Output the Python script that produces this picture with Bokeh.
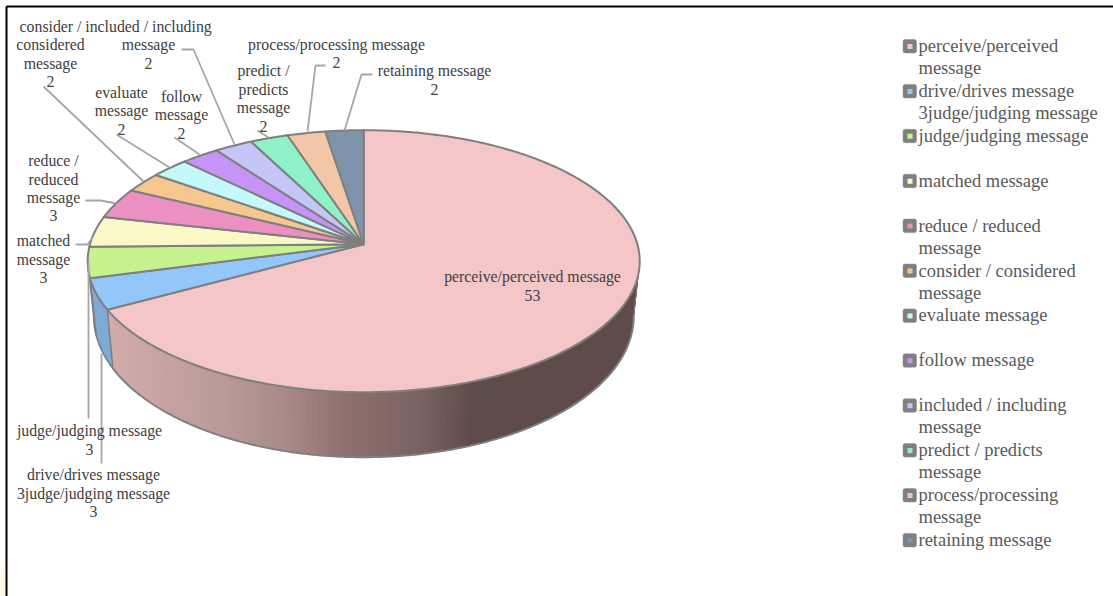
import numpy as np
from bokeh.core.properties import value
from bokeh.embed import file_html
from bokeh.models import Range1d
from bokeh.plotting import figure
from bokeh.resources import INLINE

# Chart data
categories = [
    "perceive/perceived message", "drive/drives message 3judge/judging message",
    "judge/judging message", "matched message", "reduce / reduced message",
    "consider / considered message", "evaluate message", "follow message",
    "included / including message", "predict / predicts message",
    "process/processing message", "retaining message",
]
counts = [53, 3, 3, 3, 3, 2, 2, 2, 2, 2, 2, 2]
slice_colors = ["#f5c6c8", "#93c7f9", "#c6f28f", "#fbf8c8", "#ec90c4", "#f6c690",
                "#c4f8fa", "#c693f6", "#c5c6f8", "#8ef2c6", "#f3c6a8", "#7f93ac"]

# Legend wording, wrapped the way it is set on the page
legend_lines = [
    ["perceive/perceived", "message"], ["drive/drives message", "3judge/judging message"],
    ["judge/judging message"], ["matched message"], ["reduce / reduced", "message"],
    ["consider / considered", "message"], ["evaluate message"], ["follow message"],
    ["included / including", "message"], ["predict / predicts", "message"],
    ["process/processing", "message"], ["retaining message"],
]

# Callout text: (centre x, [(line, centre y), ...])
callouts = [
    (532, [("perceive/perceived message", 276), ("53", 295)]),
    (93, [("drive/drives message", 474), ("3judge/judging message", 493), ("3", 511)]),
    (89, [("judge/judging message", 430), ("3", 449)]),
    (43, [("matched", 240), ("message", 259), ("3", 277)]),
    (53, [("reduce /", 160), ("reduced", 179), ("message", 197), ("3", 215)]),
    (50, [("consider /", 26), ("considered", 44), ("message", 63), ("2", 81)]),
    (121, [("evaluate", 92), ("message", 110), ("2", 129)]),
    (181, [("follow", 96), ("message", 114), ("2", 133)]),
    (148, [("included / including", 26), ("message", 44), ("2", 63)]),
    (263, [("predict /", 70), ("predicts", 89), ("message", 107), ("2", 126)]),
    (336, [("process/processing message", 44), ("2", 62)]),
    (434, [("retaining message", 70), ("2", 89)]),
]
leader_paths = [
    ([101, 101], [353, 463]),
    ([88, 88], [262, 418]),
    ([75, 87, 92], [244, 244, 237]),
    ([85, 100, 116], [200, 200, 203]),
    ([43, 143], [86, 181]),
    ([116, 169], [134, 167]),
    ([174, 199], [137, 154]),
    ([181, 193, 234], [49, 49, 144]),
    ([257, 268], [130, 137]),
    ([325, 315, 307], [65, 65, 131]),
    ([372, 361, 344], [74, 74, 130]),
]

# Page geometry of the tilted disc
APEX_X, APEX_Y = 363.2, 243.7
FAR, NEAR, HALF_W = 114, 148, 276
TILT = (NEAR - FAR) / (NEAR + FAR)
TOP_CY, TOP_RY = APEX_Y + (NEAR - FAR) / 2, (NEAR + FAR) / 2
BASE_CY, BASE_RY, BASE_RX = 315.7, 141, 270


def disc_point(deg):
    """Project an angle (clockwise from 12 o'clock) onto the tilted disc."""
    t = np.radians(deg)
    u, v = np.sin(t), np.cos(t)
    k = 1 + TILT * v
    return (APEX_X + HALF_W * np.sqrt(1 - TILT ** 2) * u / k,
            APEX_Y - FAR * (1 + TILT) * v / k)


def drop_to_base(x, y):
    """Carry a point on the top rim straight down to the same spot on the lower rim."""
    return (APEX_X + (x - APEX_X) * BASE_RX / HALF_W,
            BASE_CY + (y - TOP_CY) * BASE_RY / TOP_RY)


def shade(color, factor):
    rgb = [int(color[i:i + 2], 16) for i in (1, 3, 5)]
    return "#%02x%02x%02x" % tuple(int(c * factor) for c in rgb)


# Wall shading along the page width
ramp_x = [107, 220, 280, 340, 420, 470, 640]
ramp_rgb = [(0xd2, 0xac, 0xac), (0xb9, 0x9a, 0x97), (0xa9, 0x8b, 0x89),
            (0x8f, 0x71, 0x6f), (0x79, 0x63, 0x61), (0x5f, 0x4c, 0x4a), (0x5f, 0x4c, 0x4a)]


def wall_color(x):
    return "#%02x%02x%02x" % tuple(int(np.interp(x, ramp_x, [c[i] for c in ramp_rgb])) for i in range(3))


edges = np.cumsum([0] + counts) / sum(counts) * 360

p = figure(width=1113, height=596, output_backend="svg", toolbar_location=None,
           x_range=Range1d(0, 1113), y_range=Range1d(596, 0), min_border=0,
           x_axis_type=None, y_axis_type=None, outline_line_color=None,
           background_fill_color="white", border_fill_color="white")
p.grid.visible = False

# Sheet edge: faint tint in the corner and the dark frame lines
p.patch([0, 5, 5, 0], [596, 596, 553, 575], fill_color="#fff8dc", line_color=None)
p.line([6, 1113], [6, 6], line_color="black", line_width=2)
p.line([6, 6], [6, 596], line_color="black", line_width=2)

# Large slice wall: each shaded band runs to the far end and is overpainted by the next
big_end = edges[1]
scan = np.linspace(60, 120, 600)
right_turn = scan[np.argmax(disc_point(scan)[0])]
rim = np.linspace(big_end, right_turn, 400)
rx, ry = disc_point(rim)
bx, by = drop_to_base(rx, ry)
for i in range(0, len(rim) - 1, 3):
    xs = np.r_[rx[i:], bx[i:][::-1]]
    ys = np.r_[ry[i:], by[i:][::-1]]
    p.patch(xs, ys, fill_color=wall_color(rx[i]), line_color=None)
p.line(bx, by, line_color="#7f7f7f", line_width=2)
p.line([rx[-1], bx[-1]], [ry[-1], by[-1]], line_color="#7f7f7f", line_width=1)

# Remaining visible wall pieces on the left of the disc
for k in (1, 2):
    a0, a1 = edges[k], edges[k + 1]
    if k == 2:
        # the rim turns away where the projected x is smallest
        scan = np.linspace(a0, a1, 300)
        a1 = scan[np.argmin(disc_point(scan)[0])]
    seg = np.linspace(a0, a1, 30)
    sx, sy = disc_point(seg)
    lx, ly = drop_to_base(sx, sy)
    p.patch(np.r_[sx, lx[::-1]], np.r_[sy, ly[::-1]], fill_color=shade(slice_colors[k], 0.86),
            line_color="#7f7f7f", line_width=1.6, line_join="round")

# Top faces of the slices
for k, col in enumerate(slice_colors):
    seg = np.linspace(edges[k], edges[k + 1], max(8, int((edges[k + 1] - edges[k]) * 2)))
    sx, sy = disc_point(seg)
    p.patch(np.r_[APEX_X, sx], np.r_[APEX_Y, sy], fill_color=col,
            line_color="#7f7f7f", line_width=2, line_join="round")

# Leader lines
for xs, ys in leader_paths:
    p.line(xs, ys, line_color="#a6a6a6", line_width=1.8)

# Callout text
for cx, rows in callouts:
    p.text([cx] * len(rows), [r[1] for r in rows], text=[r[0] for r in rows],
           text_font=value("Liberation Serif"), text_font_size="15.8px",
           text_color="#404040", text_align="center", text_baseline="middle")

# Legend
LEG_Y0, LEG_STEP, LEG_LINE = 46, 44.9, 22
for k, rows in enumerate(legend_lines):
    y = LEG_Y0 + k * LEG_STEP
    p.quad(left=[902.5], right=[916], top=[y - 7], bottom=[y + 6.5], fill_color="#7f7f7f",
           line_color="#8c8c8c", line_width=0.5, border_radius=2)
    p.quad(left=[907], right=[912], top=[y - 2.5], bottom=[y + 2.5],
           fill_color=slice_colors[k], line_color=None)
    p.text([918] * len(rows), [y - 0.5 + j * LEG_LINE for j in range(len(rows))], text=rows,
           text_font=value("Liberation Serif"), text_font_size="18.5px",
           text_color="#595959", text_align="left", text_baseline="middle")

open("out.html", "w").write(file_html(p, INLINE))
